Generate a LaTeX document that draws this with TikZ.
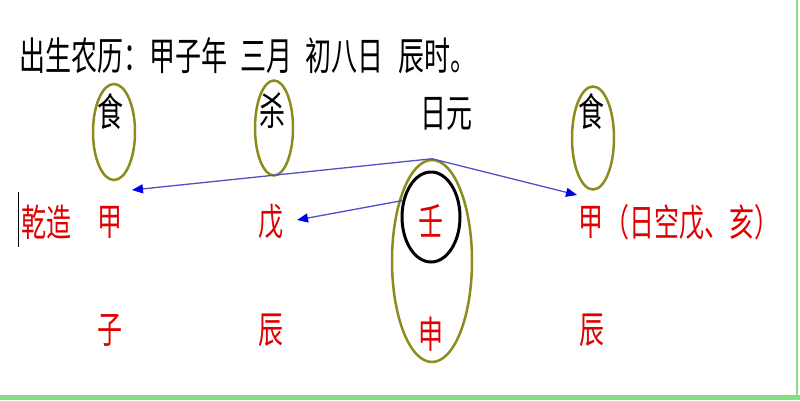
\documentclass[tikz,border=0pt]{standalone}
\usepackage{fontspec}
\newfontfamily\cjk{Noto Sans CJK SC}
\usetikzlibrary{shapes.geometric,arrows.meta}
\definecolor{olivering}{RGB}{140,140,30}
\definecolor{redtxt}{RGB}{225,0,0}
\definecolor{bluearr}{RGB}{80,80,200}
\definecolor{bluetip}{RGB}{0,0,230}
\definecolor{greenborder}{RGB}{130,225,130}
\newcommand{\stretchy}[1]{\scalebox{1}[1.5]{#1}}
\begin{document}
\begin{tikzpicture}[x=1pt,y=-1pt,
  txt/.style={inner sep=0pt, font=\cjk\fontsize{26}{30}\selectfont, text=black},
  redtext/.style={txt, font=\cjk\fontsize{25}{30}\selectfont, text=redtxt},
  ring/.style={draw=olivering, line width=2.5pt, ellipse, inner sep=0pt},
  blackring/.style={draw=black, line width=3pt, ellipse, inner sep=0pt},
  arr/.style={draw=bluearr, line width=1.3pt, -{Triangle[length=11pt,width=9pt,color=bluetip]}}
]
\useasboundingbox (0,0) rectangle (800,400);
\fill[white] (0,0) rectangle (800,400);
% borders
\draw[greenborder, line width=2pt] (797,0) -- (797,400);
\fill[greenborder] (0,395) rectangle (800,400);
% cursor
\draw[black, line width=1pt] (18,192) -- (18,247);

% title
\node[txt, anchor=west] (title) at (19,56) {\stretchy{出生农历：甲子年\hspace{13pt}三月\hspace{13pt}初八日\hspace{15pt}辰时。}};

% top row
\node[txt] (shiL) at (110,111) {\stretchy{食}};
\node[txt] (sha) at (272,111) {\stretchy{杀}};
\node[txt] (riyuan) at (446,114) {\stretchy{日元}};
\node[txt] (shiR) at (591,111) {\stretchy{食}};

% stems row
\node[redtext] (qianzao) at (46,222) {\stretchy{乾造}};
\node[redtext] (jiaL) at (110,222) {\stretchy{甲}};
\node[redtext] (wu) at (271,222) {\stretchy{戊}};
\node[redtext] (ren) at (431,221) {\stretchy{壬}};
\node[redtext] (jiaR) at (591,222) {\stretchy{甲}};
\node[redtext, anchor=west] (note) at (604,222) {\stretchy{（日空戊、亥）}};

% branches row
\node[redtext] (zi) at (110,330) {\stretchy{子}};
\node[redtext] (chenL) at (271,330) {\stretchy{辰}};
\node[redtext] (shen) at (431,334) {\stretchy{申}};
\node[redtext] (chenR) at (592,330) {\stretchy{辰}};

% rings
\node[ring, minimum width=42pt, minimum height=96pt] (ringL) at (114,132) {};
\node[ring, minimum width=38pt, minimum height=95pt] (ringS) at (274,128) {};
\node[ring, minimum width=42pt, minimum height=103pt] (ringR) at (593,138) {};
\node[ring, minimum width=80pt, minimum height=202pt] (ringBig) at (432,261) {};
\node[blackring, minimum width=58pt, minimum height=90pt] (ringRen) at (431,217) {};

% arrow tips
\coordinate (tipJ) at (132,190);
\coordinate (tipW) at (297,220);
\coordinate (tipR) at (577,195);

\draw[arr] (ringBig.north) -- (tipJ);
\draw[arr] (ringBig.north) -- (tipR);
\draw[arr] (ringRen.150) -- (tipW);
\end{tikzpicture}
\end{document}
